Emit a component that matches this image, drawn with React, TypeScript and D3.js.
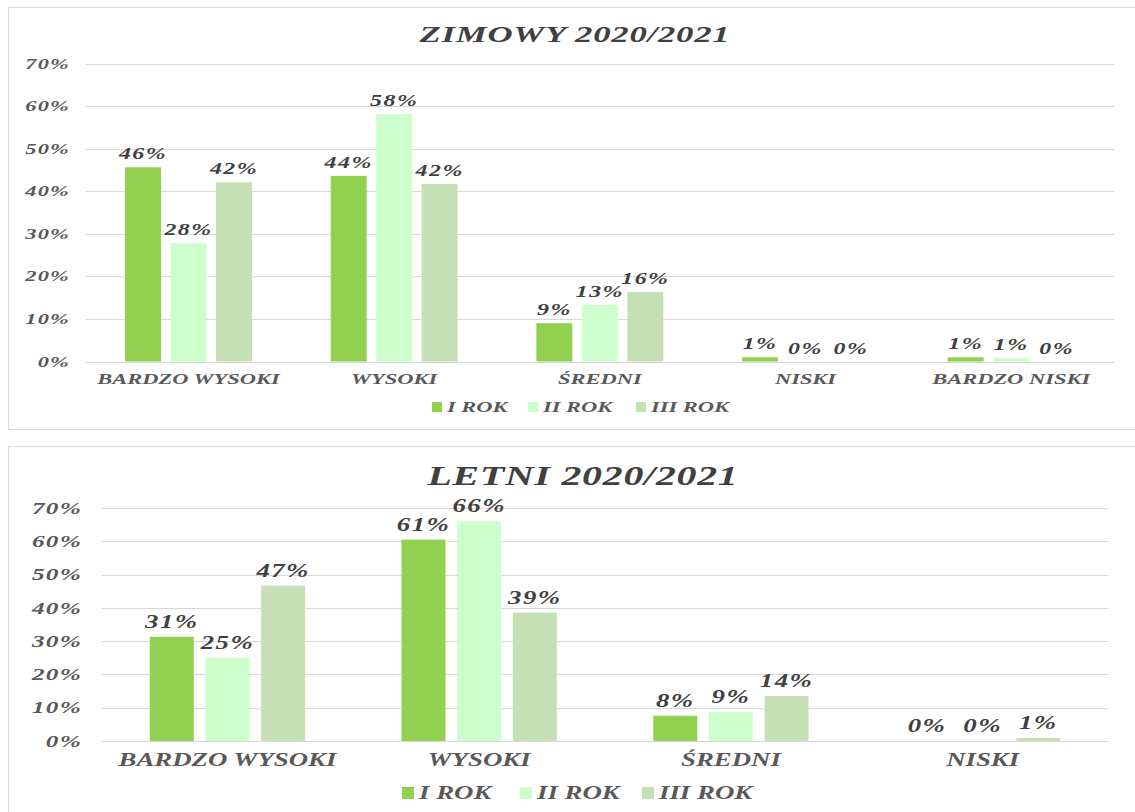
import { useEffect } from "react";
import * as d3 from "d3";

const series = ["I ROK", "II ROK", "III ROK"];
const colors = ["#92d050", "#ccffcc", "#c5e0b4"];
const yTicks = [0, 0.1, 0.2, 0.3, 0.4, 0.5, 0.6, 0.7];

const winterCategories = ["BARDZO WYSOKI", "WYSOKI", "ŚREDNI", "NISKI", "BARDZO NISKI"];
const winterRok1 = [0.456, 0.436, 0.09, 0.01, 0.01];
const winterRok2 = [0.278, 0.581, 0.133, 0, 0.008];
const winterRok3 = [0.421, 0.417, 0.163, 0, 0];

const summerCategories = ["BARDZO WYSOKI", "WYSOKI", "ŚREDNI", "NISKI"];
const summerRok1 = [0.313, 0.605, 0.076, 0];
const summerRok2 = [0.25, 0.66, 0.087, 0];
const summerRok3 = [0.467, 0.386, 0.135, 0.009];

const FONT = "'Liberation Serif', 'DejaVu Serif', serif";
const SX = 1.45; // the picture is stretched sideways

interface TxtProps {
  x: number;
  y: number;
  size: number;
  anchor?: string;
  fill?: string;
  spacing?: number;
  children: string;
}

function Txt({ x, y, size, anchor = "middle", fill = "#404040", spacing = 0, children }: TxtProps) {
  return (
    <text
      transform={`translate(${x},${y}) scale(${SX},1)`}
      fontFamily={FONT}
      fontWeight="bold"
      fontStyle="italic"
      fontSize={size}
      textAnchor={anchor}
      letterSpacing={spacing}
      fill={fill}
    >
      {children}
    </text>
  );
}

interface ChartProps {
  title: string;
  categories: string[];
  values: number[][];
  box: { x: number; y: number; w: number; h: number };
  titleX: number;
  titleY: number;
  titleSize: number;
  left: number;
  right: number;
  top: number;
  bottom: number;
  tickX: number;
  tickFont: number;
  labelFont: number;
  catFont: number;
  catY: number;
  labelGap: number;
  legendY: number;
  legendX: number[];
  square: number;
}

function Chart(p: ChartProps) {
  const y = d3.scaleLinear().domain([0, 0.7]).range([p.bottom, p.top]);
  const x0 = d3
    .scaleBand()
    .domain(p.categories)
    .range([p.left, p.right])
    .paddingInner(0.383)
    .paddingOuter(0.1915);
  const x1 = d3
    .scaleBand()
    .domain(series)
    .range([0, x0.bandwidth()])
    .paddingInner(0.21);
  const fmt = d3.format(".0%");

  return (
    <g>
      <rect
        x={p.box.x + 0.5}
        y={p.box.y + 0.5}
        width={p.box.w}
        height={p.box.h}
        fill="white"
        stroke="#d9d9d9"
      />
      <Txt x={p.titleX} y={p.titleY} size={p.titleSize} spacing={0.5}>
        {p.title}
      </Txt>
      {yTicks.map((t) => (
        <g key={t}>
          <line
            x1={p.left}
            x2={p.right}
            y1={Math.round(y(t)) + 0.5}
            y2={Math.round(y(t)) + 0.5}
            stroke="#d9d9d9"
            strokeWidth={1.2}
          />
          <Txt
            x={p.tickX}
            y={y(t) + p.tickFont * 0.33}
            size={p.tickFont}
            anchor="end"
            fill="#595959"
            spacing={0.8}
          >
            {fmt(t)}
          </Txt>
        </g>
      ))}
      {p.categories.map((c, i) => (
        <g key={c}>
          {series.map((s, j) => {
            const v = p.values[j][i];
            const bx = (x0(c) ?? 0) + (x1(s) ?? 0);
            return (
              <g key={s}>
                <rect
                  x={bx}
                  y={y(v)}
                  width={x1.bandwidth()}
                  height={p.bottom - y(v)}
                  fill={colors[j]}
                />
                <Txt
                  x={bx + x1.bandwidth() / 2}
                  y={y(v) - p.labelGap}
                  size={p.labelFont}
                  spacing={1}
                >
                  {fmt(v)}
                </Txt>
              </g>
            );
          })}
          <Txt
            x={(x0(c) ?? 0) + x0.bandwidth() / 2}
            y={p.catY}
            size={p.catFont}
            fill="#595959"
          >
            {c}
          </Txt>
        </g>
      ))}
      {series.map((s, j) => (
        <g key={s}>
          <rect
            x={p.legendX[j]}
            y={p.legendY - p.square / 2}
            width={p.square}
            height={p.square}
            fill={colors[j]}
          />
          <Txt
            x={p.legendX[j] + p.square + 5}
            y={p.legendY + p.catFont * 0.33}
            size={p.catFont}
            anchor="start"
            fill="#595959"
          >
            {s}
          </Txt>
        </g>
      ))}
    </g>
  );
}

export default function App() {
  useEffect(() => {
    document.body.style.margin = "0";
  }, []);

  return (
    <svg width={1135} height={812} style={{ display: "block", background: "white" }}>
      <Chart
        title="ZIMOWY 2020/2021"
        categories={winterCategories}
        values={[winterRok1, winterRok2, winterRok3]}
        box={{ x: 8, y: 7, w: 1140, h: 422 }}
        titleX={575}
        titleY={42}
        titleSize={24}
        left={85.7}
        right={1114}
        top={63.5}
        bottom={361.5}
        tickX={70}
        tickFont={15.5}
        labelFont={16.5}
        catFont={15.5}
        catY={384}
        labelGap={8}
        legendY={407}
        legendX={[432, 528, 636]}
        square={10}
      />
      <Chart
        title="LETNI 2020/2021"
        categories={summerCategories}
        values={[summerRok1, summerRok2, summerRok3]}
        box={{ x: 8, y: 446, w: 1140, h: 400 }}
        titleX={583}
        titleY={485}
        titleSize={27.5}
        left={101.6}
        right={1108.5}
        top={508}
        bottom={741}
        tickX={82}
        tickFont={17.5}
        labelFont={18.5}
        catFont={18.5}
        catY={766}
        labelGap={9}
        legendY={793}
        legendX={[402, 520, 642]}
        square={12}
      />
    </svg>
  );
}
